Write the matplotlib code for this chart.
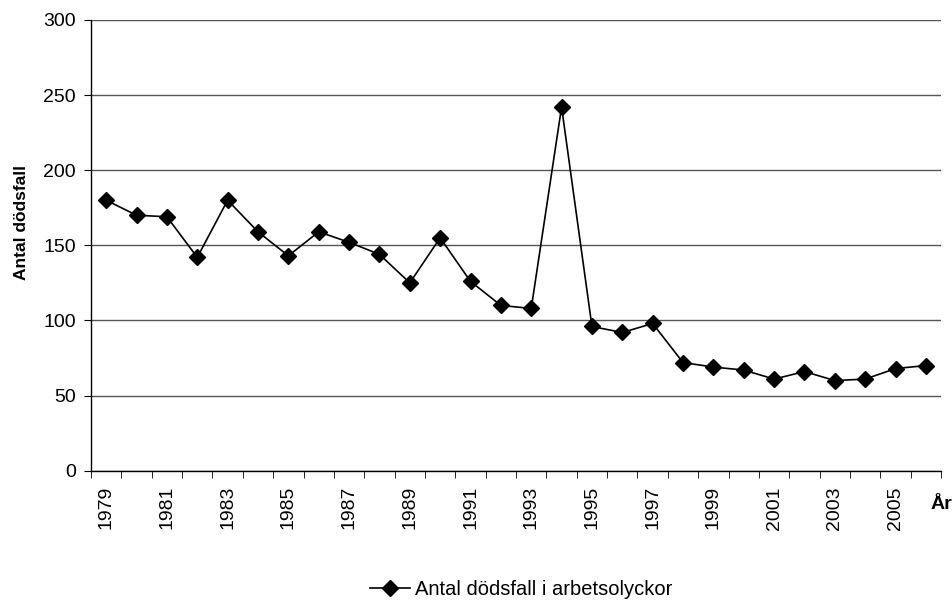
import matplotlib
matplotlib.use("Agg")
import matplotlib.pyplot as plt
import numpy as np

plt.rcParams['font.family'] = ['Liberation Sans', 'DejaVu Sans']

# data
years = list(range(1979, 2007))
deaths = [180, 170, 169, 142, 180, 159, 143, 159, 152, 144,
          125, 155, 126, 110, 108, 242, 96, 92, 98, 72,
          69, 67, 61, 66, 60, 61, 68, 70]

fig = plt.figure(figsize=(9.53, 6.02), dpi=100)
ax = fig.add_axes([0.0955, 0.218, 0.892, 0.749])

x = np.arange(len(years))
ax.plot(x, deaths, color='black', lw=1.2, marker='D', ms=8,
        label='Antal dödsfall i arbetsolyckor')

ax.set_xlim(-0.5, len(years) - 0.5)
ax.set_ylim(0, 300)
ax.set_yticks(range(0, 301, 50))
ax.yaxis.grid(True, color='#555555', lw=1.0)
ax.set_axisbelow(True)

# year labels on every other category, tick marks on category borders
ax.set_xticks(x[::2])
ax.set_xticklabels([str(y) for y in years[::2]], rotation=90, fontsize=14)
ax.tick_params(axis='x', which='major', length=0, pad=11)
ax.set_xticks(np.arange(-0.5, len(years)), minor=True)
ax.tick_params(axis='x', which='minor', length=5, direction='out')
ax.tick_params(axis='y', labelsize=14, length=5, direction='out', pad=6)

for s in ['top', 'right']:
    ax.spines[s].set_visible(False)
ax.spines['left'].set_linewidth(1.0)
ax.spines['bottom'].set_linewidth(1.0)

ax.set_ylabel('Antal dödsfall', fontsize=12.5, fontweight='bold')
ax.yaxis.set_label_coords(-0.0735, 0.55)
ax.text(1.0, -0.074, 'År', transform=ax.transAxes, fontsize=14,
        fontweight='bold', ha='center', va='center')

fig.legend(loc='center', bbox_to_anchor=(0.547, 0.02), frameon=False,
           fontsize=14.5, handlelength=2.0, handletextpad=0.25,
           borderpad=0, borderaxespad=0)

fig.savefig('out.png', dpi=100)
